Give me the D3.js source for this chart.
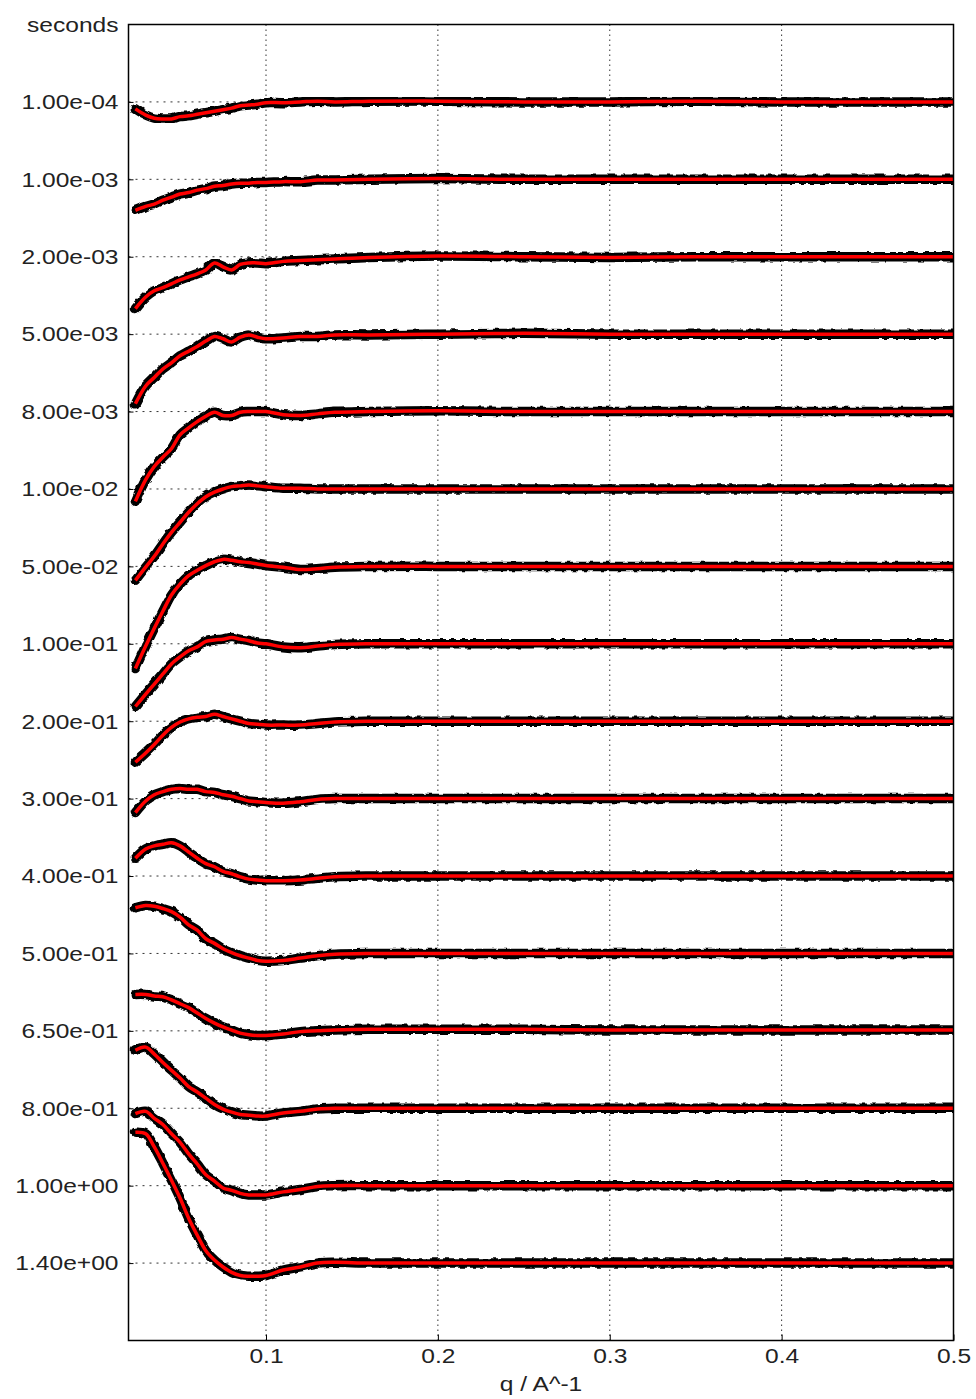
<!DOCTYPE html>
<html>
<head>
<meta charset="utf-8">
<script src="https://cdn.jsdelivr.net/npm/d3@7/dist/d3.min.js"></script>
<style>
  body { margin: 0; background: #fff; }
  svg { display: block; font-family: "Liberation Sans", Arial, Helvetica, sans-serif; }
</style>
</head>
<body>
<div id="chart"></div>
<script>
// delay labels (top "seconds" is the unit header)
const delayLabels = ["1.00e-04","1.00e-03","2.00e-03","5.00e-03","8.00e-03","1.00e-02","5.00e-02","1.00e-01",
  "2.00e-01","3.00e-01","4.00e-01","5.00e-01","6.50e-01","8.00e-01","1.00e+00","1.40e+00"]
const unitLabel = "seconds"
const xTicks = [0.1, 0.2, 0.3, 0.4, 0.5]

// q values (A^-1) where the curves were read
const qValues = [0.024,0.03,0.035,0.04,0.045,0.05,0.055,0.06,0.065,0.07,0.075,0.08,0.085,0.09,0.095,0.1,
  0.11,0.12,0.13,0.14,0.16,0.2,0.25,0.3,0.35,0.4,0.45,0.5]

// difference signal, in units of the offset between curves (positive = up)
const c_1e4  = [-0.09,-0.17,-0.21,-0.22,-0.22,-0.19,-0.18,-0.16,-0.14,-0.12,-0.10,-0.08,-0.05,-0.04,-0.03,-0.01,-0.01,0,0.01,0,0.01,0.01,0,0,0.01,0,0,0]
const c_1e3  = [-0.40,-0.35,-0.32,-0.27,-0.23,-0.19,-0.17,-0.14,-0.12,-0.09,-0.08,-0.06,-0.05,-0.05,-0.04,-0.04,-0.03,-0.03,-0.01,-0.01,0,0.01,0,0,0,0,0,0]
const c_2e3  = [-0.67,-0.52,-0.44,-0.40,-0.35,-0.30,-0.26,-0.22,-0.17,-0.08,-0.13,-0.17,-0.10,-0.08,-0.08,-0.09,-0.06,-0.05,-0.04,-0.03,-0.01,0.01,0,-0.01,0,0,0,0]
const c_5e3  = [-0.90,-0.67,-0.56,-0.45,-0.37,-0.28,-0.22,-0.16,-0.09,-0.03,-0.06,-0.10,-0.04,-0.01,-0.04,-0.06,-0.05,-0.03,-0.03,-0.01,-0.01,0,0.01,0,0,0,0,0]
const c_8e3  = [-1.16,-0.88,-0.71,-0.59,-0.48,-0.30,-0.21,-0.13,-0.06,-0.01,-0.05,-0.05,-0.01,0,0,0,-0.04,-0.05,-0.03,-0.01,0,0.01,0,0,0,0,0,0]
const c_1e2  = [-1.18,-1.01,-0.87,-0.71,-0.56,-0.43,-0.30,-0.19,-0.10,-0.04,0,0.03,0.04,0.05,0.04,0.03,0.01,0.01,0,0,0,0,0,0,0,0,0,0]
const c_5e2  = [-1.32,-1.03,-0.80,-0.58,-0.37,-0.23,-0.12,-0.05,0.01,0.06,0.09,0.08,0.06,0.05,0.03,0.01,-0.01,-0.04,-0.03,-0.01,0,0,0,0,0,0,0,0]
const c_1e1  = [-0.81,-0.65,-0.52,-0.39,-0.26,-0.17,-0.09,-0.04,0.03,0.05,0.06,0.08,0.06,0.04,0.01,0,-0.04,-0.05,-0.03,-0.01,0,0,0,0,0,0,0,0]
const c_2e1  = [-0.53,-0.41,-0.30,-0.18,-0.08,-0.01,0.03,0.05,0.06,0.09,0.06,0.03,0,-0.03,-0.04,-0.05,-0.05,-0.05,-0.03,-0.01,0,0,0,0,0,0,0,0]
const c_3e1  = [-0.18,-0.03,0.05,0.09,0.12,0.13,0.12,0.12,0.09,0.08,0.05,0.03,0,-0.03,-0.04,-0.05,-0.06,-0.04,-0.01,0,0,0,0,0,0,0,0,0]
const c_4e1  = [0.23,0.35,0.39,0.41,0.43,0.39,0.31,0.23,0.16,0.12,0.06,0.03,-0.01,-0.04,-0.05,-0.06,-0.06,-0.05,-0.03,-0.01,0,0,0,0,0,0,0,0]
const c_5e1  = [0.59,0.62,0.61,0.58,0.54,0.47,0.37,0.30,0.19,0.13,0.06,0.01,-0.03,-0.06,-0.09,-0.10,-0.09,-0.06,-0.03,-0.01,0,0,0,0,0,0,0,0]
const c_65e1 = [0.47,0.47,0.45,0.44,0.40,0.35,0.30,0.23,0.16,0.10,0.05,0.01,-0.03,-0.05,-0.06,-0.06,-0.04,-0.01,0,0.01,0.02,0.02,0.02,0.01,0.01,0.01,0.01,0.01]
const c_8e1  = [0.75,0.79,0.70,0.59,0.49,0.39,0.28,0.21,0.13,0.05,-0.01,-0.05,-0.08,-0.09,-0.10,-0.10,-0.06,-0.04,-0.01,0,0,0,0,0,0,0,0,0]
const c_1e0  = [0.93,0.96,0.87,0.79,0.67,0.56,0.41,0.28,0.14,0.06,-0.03,-0.06,-0.10,-0.12,-0.12,-0.12,-0.08,-0.05,-0.01,0,0,0,0,0,0,0,0,0]
const c_14e0 = [1.69,1.67,1.50,1.29,1.07,0.84,0.58,0.36,0.16,0.04,-0.05,-0.12,-0.16,-0.17,-0.17,-0.16,-0.09,-0.05,0,0.01,0,0,0,0,0,0,0,0]

const curves = [c_1e4,c_1e3,c_2e3,c_5e3,c_8e3,c_1e2,c_5e2,c_1e1,c_2e1,c_3e1,c_4e1,c_5e1,c_65e1,c_8e1,c_1e0,c_14e0]

// taille
const width = 976
const height = 1399
const margin = {left: 128.5, right: 22.5, top: 24.5, bottom: 58.5}
const stretch = 1.26   // l'image source est étirée horizontalement

const svg = d3.select("#chart").append("svg")
    .attr("width", width)
    .attr("height", height)

// filtre pour l'aspect "points bruités"
const defs = svg.append("defs")
const rough = defs.append("filter").attr("id", "rough")
    .attr("x", "-5%").attr("y", "-20%").attr("width", "110%").attr("height", "140%")
rough.append("feTurbulence").attr("type", "fractalNoise").attr("baseFrequency", 0.18)
    .attr("numOctaves", 1).attr("seed", 3).attr("result", "noise")
rough.append("feDisplacementMap").attr("in", "SourceGraphic").attr("in2", "noise")
    .attr("scale", 4.5).attr("xChannelSelector", "R").attr("yChannelSelector", "G")
defs.append("clipPath").attr("id", "clip").append("rect")
    .attr("x", margin.left).attr("y", margin.top)
    .attr("width", width - margin.left - margin.right)
    .attr("height", height - margin.top - margin.bottom)

const x = d3.scaleLinear().domain([0.02, 0.5]).range([margin.left, width - margin.right])
const y = d3.scaleLinear().domain([-1, 16]).range([margin.top, height - margin.bottom])

// grille
const grid = svg.append("g")
grid.selectAll("line.h").data(d3.range(delayLabels.length)).enter()
    .append("line")
    .attr("x1", x(0.02)).attr("x2", x(0.5))
    .attr("y1", d => y(d)).attr("y2", d => y(d))
    .attr("stroke", "#333").attr("stroke-width", 1).attr("stroke-dasharray", "2,5")
grid.selectAll("line.v").data(xTicks.slice(0, -1)).enter()
    .append("line")
    .attr("x1", d => x(d)).attr("x2", d => x(d))
    .attr("y1", y(-1)).attr("y2", y(16))
    .attr("stroke", "#333").attr("stroke-width", 1).attr("stroke-dasharray", "1.5,3.5")

// courbes
const plot = svg.append("g").attr("clip-path", "url(#clip)")
const line = d3.line()
    .x(d => x(d.q))
    .y(d => y(d.i - d.v))
    .curve(d3.curveCatmullRom.alpha(0.5))

const series = curves.map((c, i) => qValues.map((q, k) => ({q: q, v: c[k], i: i})))

plot.selectAll("path.data").data(series).enter()
    .append("path")
    .attr("d", line)
    .attr("fill", "none")
    .attr("stroke", "#000")
    .attr("stroke-width", 9.5)
    .attr("stroke-linejoin", "round")
    .attr("stroke-linecap", "round")
    .attr("filter", "url(#rough)")

plot.selectAll("path.fit").data(series).enter()
    .append("path")
    .attr("d", line)
    .attr("fill", "none")
    .attr("stroke", "#ff0000")
    .attr("stroke-width", 3.5)
    .attr("stroke-linejoin", "round")

// axes
const yAxis = d3.axisLeft(y)
    .tickValues(d3.range(-1, delayLabels.length))
    .tickSize(-5)
    .tickPadding(10)
    .tickFormat(d => d < 0 ? unitLabel : delayLabels[d])
const gy = svg.append("g").attr("transform", `translate(${margin.left},0)`).call(yAxis)

const xAxis = d3.axisBottom(x)
    .tickValues(xTicks)
    .tickSize(-6)
    .tickPadding(9)
    .tickFormat(d3.format(".1f"))
const gx = svg.append("g").attr("transform", `translate(0,${height - margin.bottom})`).call(xAxis)

gy.select(".domain").remove()
gx.select(".domain").remove()
svg.selectAll(".tick line").attr("stroke", "#000")
gy.selectAll(".tick").filter(d => d < 0).select("line").remove()

gy.selectAll(".tick text")
    .attr("font-size", 19.5)
    .attr("fill", "#222")
    .attr("dy", "0.35em")
    .attr("transform", `scale(${stretch},1)`)
    .attr("x", -10 / stretch)
gx.selectAll(".tick text")
    .attr("font-size", 19.5)
    .attr("fill", "#222")
    .attr("transform", `scale(${stretch},1)`)

// cadre
svg.append("rect")
    .attr("x", margin.left).attr("y", margin.top)
    .attr("width", width - margin.left - margin.right)
    .attr("height", height - margin.top - margin.bottom)
    .attr("fill", "none").attr("stroke", "#000").attr("stroke-width", 1.5)

svg.append("text")
    .attr("transform", `translate(${x(0.26)},${height - 8}) scale(${stretch},1)`)
    .attr("text-anchor", "middle")
    .attr("font-size", 19.5)
    .attr("fill", "#222")
    .text("q / A^-1")
</script>
</body>
</html>
